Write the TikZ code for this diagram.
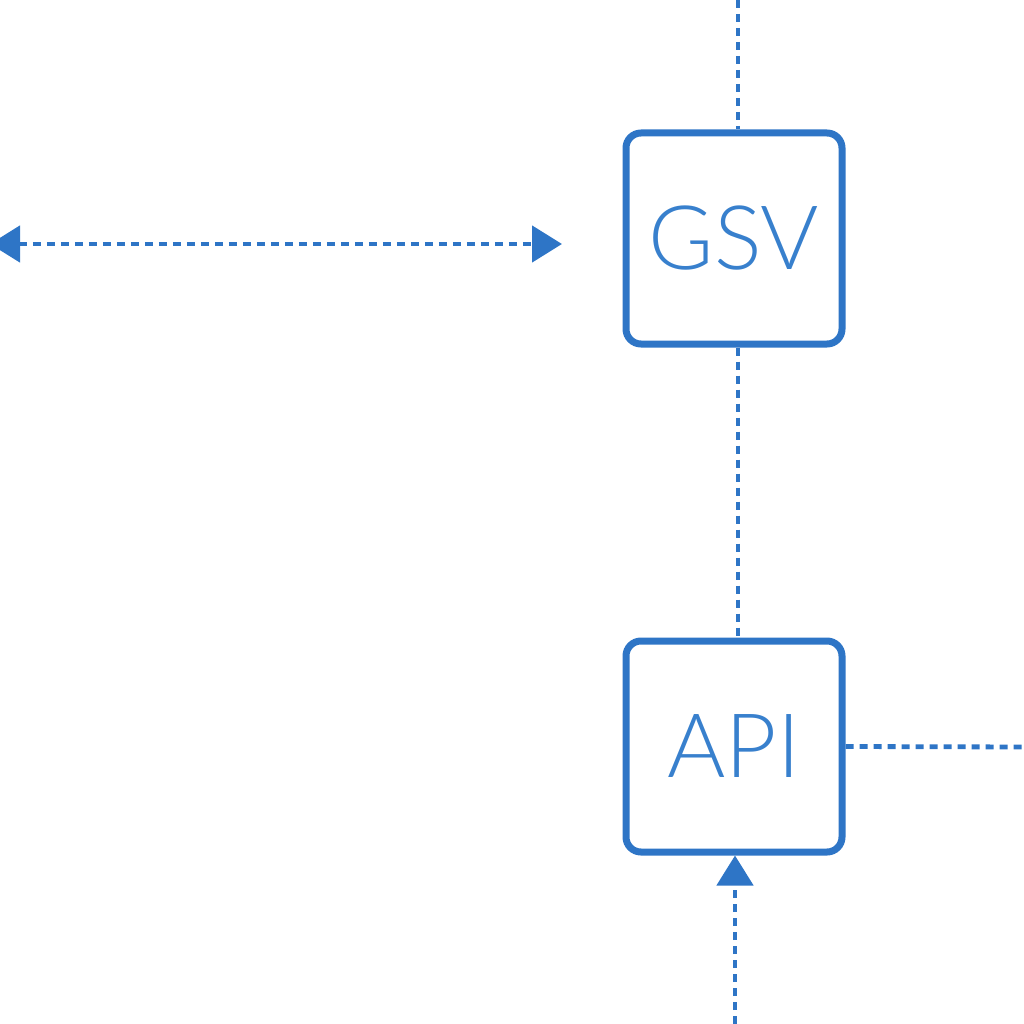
\documentclass[tikz,border=0pt]{standalone}
\usepackage{fontspec}
\setmainfont{Lato Light}
\usetikzlibrary{arrows.meta}
\definecolor{blu}{RGB}{46,117,198}
\definecolor{blutxt}{RGB}{56,128,205}
\newcommand{\boxlabel}[1]{\raisebox{-4pt}{#1}}
\begin{document}
\begin{tikzpicture}[x=1pt,y=-1pt,
  box/.style={draw=blu, line width=7pt, rounded corners=15pt, minimum width=216pt, minimum height=211pt, inner sep=0pt, text=blutxt, font=\fontsize{89}{89}\selectfont},
  dotline/.style={draw=blu, line width=4.8pt, dash pattern=on 8pt off 6pt},
  tri/.tip={Triangle[length=30pt,width=36pt]}]
\useasboundingbox (0,0) rectangle (1024,1024);
\clip (0,0) rectangle (1024,1024);
\node[box] (gsv) at (734,238.5) {\boxlabel{GSV}};
\node[box] (api) at (734,746.5) {\boxlabel{API}};
\coordinate (top) at (738,0);
\coordinate (bot) at (735,1024);
\coordinate (rr) at (1030,747);
\coordinate (la) at (-10,244);
\coordinate (ra) at (562,244);
\draw[dotline] (top) -- (top |- gsv.north);
\draw[dotline] ([xshift=4pt]gsv.south) -- ([xshift=4pt]api.north);
\draw[dotline, -tri] (bot) -- (bot |- api.south);
\draw[dotline] (api.east) -- (rr);
\draw[dotline, tri-tri] (la) -- (ra);
\end{tikzpicture}
\end{document}
